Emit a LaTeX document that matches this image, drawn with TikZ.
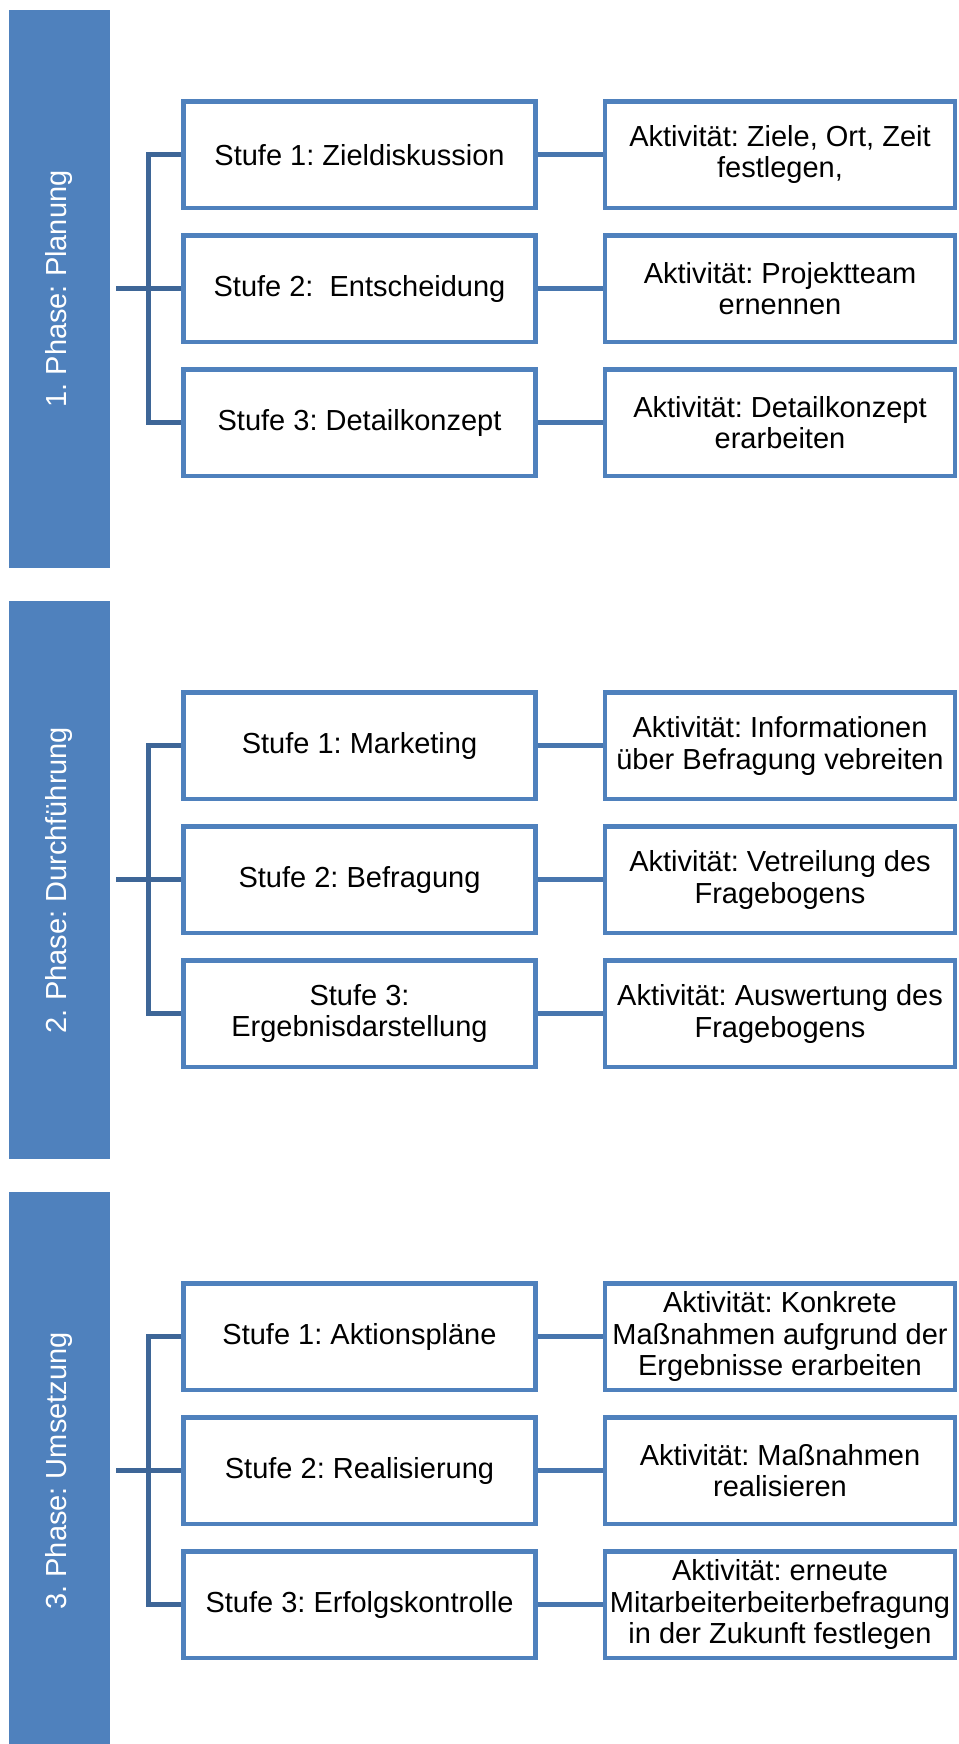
\documentclass[tikz,border=0pt]{standalone}
\usepackage{fontspec}
\setmainfont{Liberation Sans}
\frenchspacing
\definecolor{barblue}{HTML}{4F81BD}
\definecolor{linkblue}{HTML}{3E6697}
\definecolor{pairblue}{HTML}{4876AE}
\begin{document}
\begin{tikzpicture}[x=1pt,y=-1pt,
  txt/.style={font=\fontsize{29}{31.5}\selectfont},
  phasebar/.style={txt, fill=barblue, draw=none, text=white, rotate=90,
    minimum width=558pt, minimum height=101.5pt, inner sep=0pt, outer sep=0pt},
  stufebox/.style={txt, draw=barblue, line width=4.5pt, fill=white, align=center,
    minimum width=352pt, minimum height=106.5pt, inner sep=2pt},
  aktbox/.style={txt, draw=barblue, line width=4.5pt, fill=white, align=center,
    minimum width=350pt, minimum height=106.5pt, inner sep=2pt},
  bracket/.style={draw=linkblue, line width=5pt},
  pair/.style={draw=pairblue, line width=5pt}
]
\useasboundingbox (0,0) rectangle (958,1744);

% ---------- Phase 1 ----------
\node[phasebar] (bar1) at (59.25,289) {1. Phase: Planung};
\node[stufebox] (st11) at (359.5,154.75) {Stufe 1: Zieldiskussion};
\node[stufebox] (st12) at (359.5,288.75) {Stufe 2:~~Entscheidung};
\node[stufebox] (st13) at (359.5,422.75) {Stufe 3: Detailkonzept};
\node[aktbox] (ak11) at (780,154.75) {Aktivität: Ziele, Ort, Zeit\\festlegen,};
\node[aktbox] (ak12) at (780,288.75) {Aktivität: Projektteam\\ernennen};
\node[aktbox] (ak13) at (780,422.75) {Aktivität: Detailkonzept\\erarbeiten};
\coordinate (s1) at (116,288.75);
\coordinate (j1) at (148.5,288.75);

% ---------- Phase 2 ----------
\node[phasebar] (bar2) at (59.25,880) {2. Phase: Durchführung};
\node[stufebox] (st21) at (359.5,745.75) {Stufe 1: Marketing};
\node[stufebox] (st22) at (359.5,879.75) {Stufe 2: Befragung};
\node[stufebox] (st23) at (359.5,1013.75) {Stufe 3:\\Ergebnisdarstellung};
\node[aktbox] (ak21) at (780,745.75) {Aktivität: Informationen\\über Befragung vebreiten};
\node[aktbox] (ak22) at (780,879.75) {Aktivität: Vetreilung des\\Fragebogens};
\node[aktbox] (ak23) at (780,1013.75) {Aktivität: Auswertung des\\Fragebogens};
\coordinate (s2) at (116,879.75);
\coordinate (j2) at (148.5,879.75);

% ---------- Phase 3 ----------
\node[phasebar] (bar3) at (59.25,1471) {3. Phase: Umsetzung};
\node[stufebox] (st31) at (359.5,1336.75) {Stufe 1: Aktionspläne};
\node[stufebox] (st32) at (359.5,1470.75) {Stufe 2: Realisierung};
\node[stufebox] (st33) at (359.5,1604.75) {Stufe 3: Erfolgskontrolle};
\node[aktbox] (ak31) at (780,1336.75) {Aktivität: Konkrete\\Maßnahmen aufgrund der\\Ergebnisse erarbeiten};
\node[aktbox] (ak32) at (780,1470.75) {Aktivität: Maßnahmen\\realisieren};
\node[aktbox] (ak33) at (780,1604.75) {Aktivität: erneute\\Mitarbeiterbeiterbefragung\\in der Zukunft festlegen};
\coordinate (s3) at (116,1470.75);
\coordinate (j3) at (148.5,1470.75);

% ---------- connectors ----------
\foreach \p in {1,2,3}{
  \draw[bracket] (st\p1.west) -- (st\p1.west -| j\p) -- (st\p3.west -| j\p) -- (st\p3.west);
  \draw[bracket] (s\p) -- (st\p2.west);
  \foreach \r in {1,2,3}{
    \draw[pair] (st\p\r.east) -- (ak\p\r.west);
  }
}
\end{tikzpicture}
\end{document}
